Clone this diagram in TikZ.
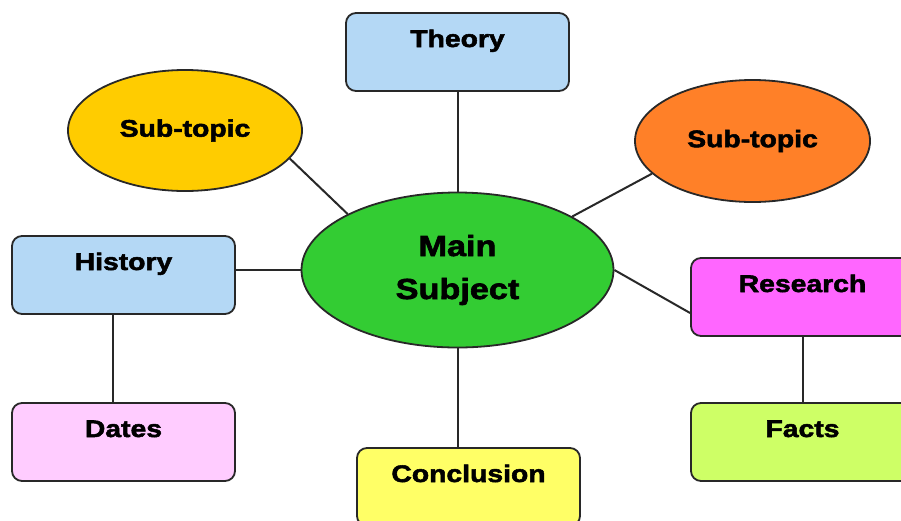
\documentclass[tikz,border=0pt]{standalone}
\usepackage{fontspec}
\newfontfamily\heavy[FakeStretch=1.18,FakeBold=2.2]{Liberation Sans Bold}
\usetikzlibrary{shapes.geometric}
\definecolor{cblue}{RGB}{180,216,245}
\definecolor{cyel}{RGB}{255,204,0}
\definecolor{corange}{RGB}{255,128,40}
\definecolor{cgreen}{RGB}{51,204,51}
\definecolor{cpink}{RGB}{255,204,255}
\definecolor{cyelbox}{RGB}{255,255,102}
\definecolor{cmag}{RGB}{255,102,255}
\definecolor{clime}{RGB}{206,255,102}
\definecolor{cline}{RGB}{40,40,40}
\tikzset{
  box/.style={draw=cline, line width=1.8pt, rectangle, rounded corners=10pt,
    minimum width=223pt, inner sep=0pt, text height=34pt, text depth=44pt,
    font=\heavy\fontsize{24}{28}\selectfont},
  oval/.style={draw=cline, line width=1.8pt, ellipse, inner sep=0pt,
    font=\heavy\fontsize{24}{28}\selectfont},
  link/.style={draw=cline, line width=2pt}
}
\begin{document}
\begin{tikzpicture}[x=1pt,y=-1pt]
\useasboundingbox (0,0) rectangle (901,520);
\clip (0,0) rectangle (901,520);
\fill[white] (0,0) rectangle (901,520);
\node[box, fill=cblue] (theory) at (457.5,52) {Theory};
\node[box, fill=cblue] (hist) at (123.5,275) {History};
\node[box, fill=cpink] (dates) at (123.5,442) {Dates};
\node[box, fill=cyelbox] (conc) at (468.5,487) {Conclusion};
\node[box, fill=cmag] (res) at (802.5,297) {Research};
\node[box, fill=clime] (facts) at (802.5,442) {Facts};
\node[oval, fill=cyel, minimum width=234pt, minimum height=121pt] (sub1) at (185,130.5) {Sub-topic};
\node[oval, fill=corange, minimum width=235pt, minimum height=122pt] (sub2) at (752.5,141) {Sub-topic};
\node[oval, fill=cgreen, minimum width=312pt, minimum height=155pt, align=center,
  font=\heavy\fontsize{29}{43}\selectfont] (main) at (457.5,270) {\raisebox{2pt}{Main}\\\raisebox{2pt}{Subject}};
\draw[link] (theory.south) -- (main.north);
\draw[link] (sub1.-15) -- (main.153);
\draw[link] (sub2.198) -- (main.25);
\draw[link] (main.west) -- (main.west -| hist.east);
\draw[link] ([xshift=-11pt]hist.south) -- ([xshift=-11pt]dates.north);
\draw[link] (main.south) -- (main.south |- conc.north);
\draw[link] (main.east) -- ([yshift=-16pt]res.west);
\draw[link] (res.south) -- (facts.north);
\end{tikzpicture}
\end{document}
